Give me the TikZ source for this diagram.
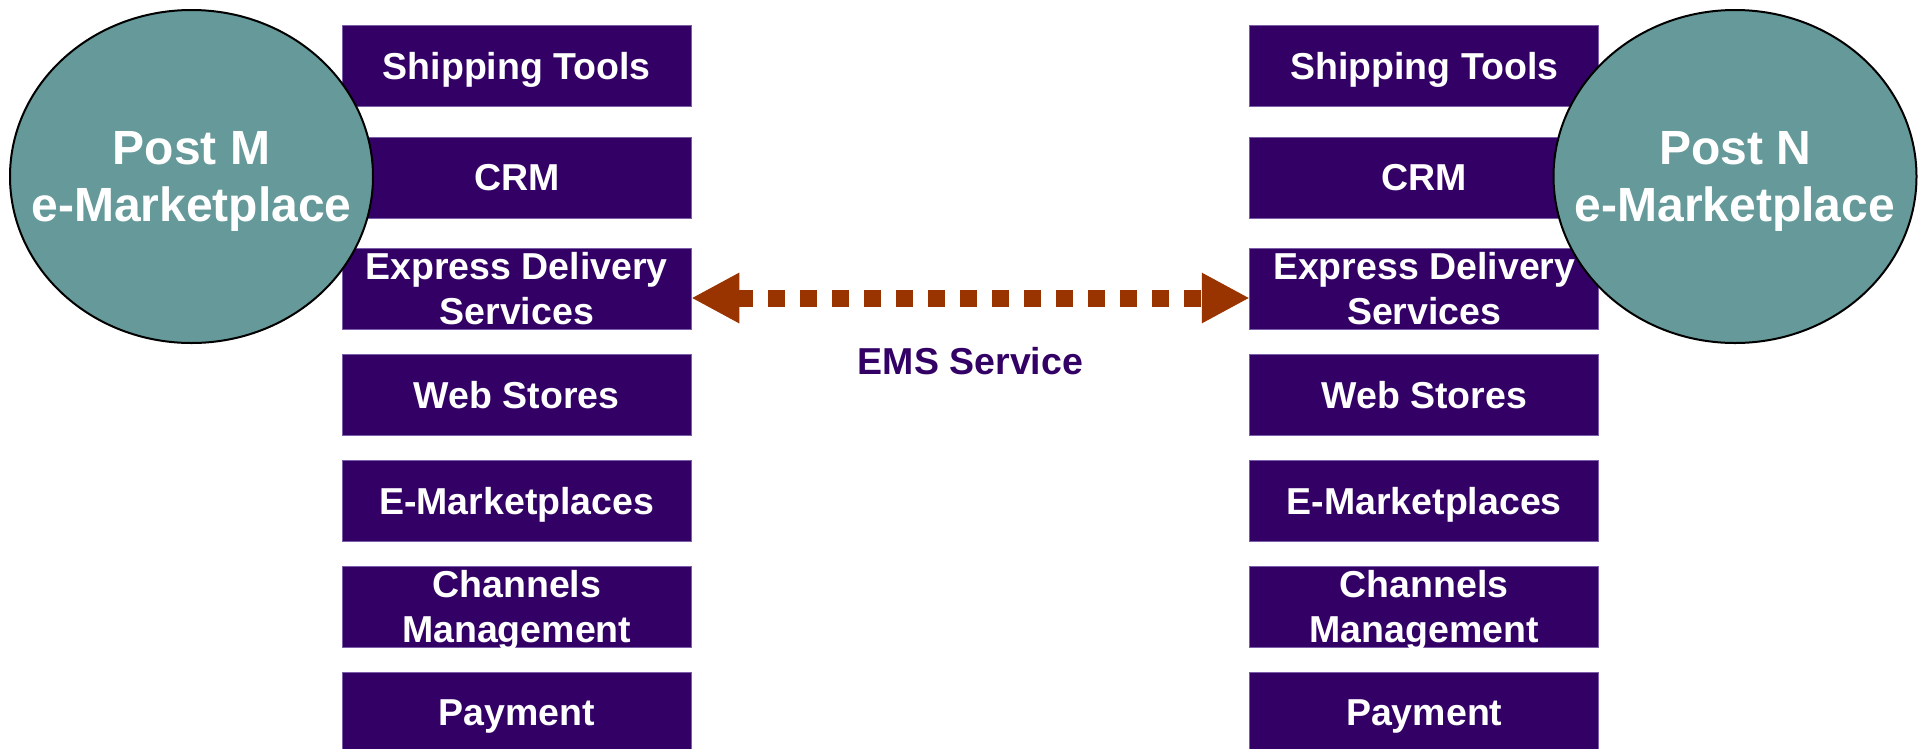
\documentclass[tikz,border=0pt]{standalone}
\usepackage{fontspec}
\setmainfont{Liberation Sans}
\usetikzlibrary{arrows.meta,shapes.geometric}
\definecolor{boxpurple}{HTML}{330066}
\definecolor{boxedge}{HTML}{7A5FA8}
\definecolor{ellteal}{HTML}{669999}
\definecolor{emsbrown}{HTML}{993300}
\tikzset{
  svcbox/.style={fill=boxpurple, draw=boxedge, line width=0.8pt, minimum width=349pt, minimum height=81pt, inner sep=0pt, outer sep=0pt},
  svctext/.style={text=white, font=\fontsize{37.5}{45}\selectfont\bfseries, align=center, text depth=0pt, inner sep=0pt},
  post/.style={ellipse, fill=ellteal, draw=black, line width=2pt, minimum width=363pt, minimum height=333pt, inner sep=0pt},
  posttext/.style={text=white, font=\fontsize{48}{57}\selectfont\bfseries, align=center, text depth=0pt, inner sep=0pt},
  emsarrow/.style={draw=emsbrown, line width=17pt, dash pattern=on 17pt off 15pt, {Triangle[length=48pt,width=47pt]}-{Triangle[length=48pt,width=47pt]}},
  emslabel/.style={text=boxpurple, font=\fontsize{37.5}{45}\selectfont\bfseries, text depth=0pt, inner sep=0pt}
}
\begin{document}
\begin{tikzpicture}[x=1pt,y=-1pt]
\useasboundingbox (0,0) rectangle (1925,748);
% boxes
\foreach \i/\y in {1/65.5,2/177.5,3/288.5,4/394.5,5/500.5,6/606.5,7/712.5}{
  \node[svcbox] (L\i) at (516.75,\y) {};
  \node[svcbox] (R\i) at (1424.25,\y) {};
}
% ellipses
\node[post] (PM) at (191.5,176.5) {};
\node[post] (PN) at (1735,176.5) {};
% texts
\foreach \i/\t in {1/{Shipping Tools},2/{CRM},3/{Express Delivery\\Services},4/{Web Stores},5/{E-Marketplaces},6/{Channels\\Management},7/{Payment}}{
  \node[svctext] (L\i t) at (L\i.center) {\t};
  \node[svctext] (R\i t) at (R\i.center) {\t};
}
\node[posttext] (PMt) at (PM.center) {Post M\\e-Marketplace};
\node[posttext] (PNt) at (PN.center) {Post N\\e-Marketplace};
% EMS connector
\draw[emsarrow] ([yshift=-9.5pt]L3.east) -- ([yshift=-9.5pt]R3.west)
  node[emslabel, midway, yshift=-63pt] (ems) {EMS Service};
\end{tikzpicture}
\end{document}
